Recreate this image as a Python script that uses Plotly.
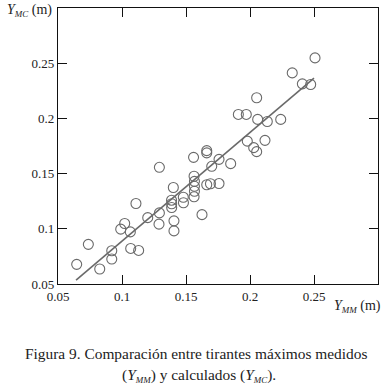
import plotly.graph_objects as go

# Measured maximum depth Y_MM (m)
y_mm = [0.0646, 0.0737, 0.0826, 0.0920, 0.0920, 0.0990, 0.1021, 0.1065, 0.1068, 0.1130,
        0.1109, 0.1201, 0.1292, 0.1289, 0.1292, 0.1401, 0.1387, 0.1388, 0.1388, 0.1406,
        0.1406, 0.1479, 0.1480, 0.1563, 0.1566, 0.1566, 0.1566, 0.1563, 0.1559, 0.1625,
        0.1662, 0.1662, 0.1701, 0.1662, 0.1691, 0.1758, 0.1758, 0.1849, 0.1909, 0.1971,
        0.1979, 0.2029, 0.2052, 0.2060, 0.2052, 0.2135, 0.2117, 0.2240, 0.2330, 0.2409,
        0.2474, 0.2508]
# Calculated maximum depth Y_MC (m)
y_mc = [0.0678, 0.0859, 0.0636, 0.0801, 0.0726, 0.0997, 0.1048, 0.0972, 0.0822, 0.0804,
        0.1229, 0.1101, 0.1144, 0.1042, 0.1557, 0.1374, 0.1259, 0.1227, 0.1193, 0.1072,
        0.0981, 0.1286, 0.1236, 0.1476, 0.1430, 0.1385, 0.1340, 0.1290, 0.1647, 0.1128,
        0.1708, 0.1688, 0.1566, 0.1399, 0.1408, 0.1410, 0.1629, 0.1590, 0.2036, 0.2036,
        0.1794, 0.1735, 0.1699, 0.1991, 0.2187, 0.1972, 0.1801, 0.1991, 0.2412, 0.2313,
        0.2307, 0.2548]

# Fitted line end points
fit_x = [0.0641, 0.2500]
fit_y = [0.0536, 0.2364]

x_ticks = [0.05, 0.1, 0.15, 0.2, 0.25]
x_ticklabels = ["0.05", "0.1", "0.15", "0.2", "0.25"]
y_ticks = [0.05, 0.1, 0.15, 0.2, 0.25]
y_ticklabels = ["0.05", "0.1", "0.15", "0.2", "0.25"]

FONT = "Liberation Serif, serif"
GRAY = "#6a6a6a"
TXT = "#222222"

fig = go.Figure()
fig.add_trace(go.Scatter(
    x=fit_x, y=fit_y, mode="lines",
    line=dict(color=GRAY, width=1.6), showlegend=False, hoverinfo="skip"))
fig.add_trace(go.Scatter(
    x=y_mm, y=y_mc, mode="markers",
    marker=dict(symbol="circle-open", size=10, color=GRAY, line=dict(width=1.1, color=GRAY)),
    showlegend=False))

for upd, vals, labs in ((fig.update_xaxes, x_ticks, x_ticklabels),
                        (fig.update_yaxes, y_ticks, y_ticklabels)):
    upd(range=[0.05, 0.30], tickmode="array", tickvals=vals, ticktext=labs,
        showgrid=False, zeroline=False, showline=True, linecolor="#111", linewidth=1.3,
        mirror="ticks", ticks="inside", ticklen=9, tickwidth=1.3, tickcolor="#111",
        tickfont=dict(family=FONT, size=13, color=TXT))

SUB = '<sub><span style="font-size:9px"><i>{}</i></span></sub>'

annotations = [
    dict(text="<i>Y</i>" + SUB.format("MC") + " (m)", xref="paper", yref="paper",
         x=-0.166, y=0.992, xanchor="left", yanchor="middle", showarrow=False,
         font=dict(family=FONT, size=14, color=TXT)),
    dict(text="<i>Y</i>" + SUB.format("MM") + " (m)", xref="paper", yref="paper",
         x=1.016, y=-0.08, xanchor="right", yanchor="middle", showarrow=False,
         font=dict(family=FONT, size=14, color=TXT)),
    dict(text="Figura 9. Comparación entre tirantes máximos medidos", xref="paper", yref="paper",
         x=0.431, y=-0.25, xanchor="center", yanchor="middle", showarrow=False,
         font=dict(family=FONT, size=15.4, color=TXT)),
    dict(text="(<i>Y</i>" + SUB.format("MM") + ") y calculados (<i>Y</i>" + SUB.format("MC") + ").",
         xref="paper", yref="paper",
         x=0.44, y=-0.33, xanchor="center", yanchor="middle", showarrow=False,
         font=dict(family=FONT, size=15.4, color=TXT)),
]

fig.update_layout(
    width=385, height=392,
    margin=dict(l=58, r=7, t=8, b=108),
    paper_bgcolor="white", plot_bgcolor="white",
    font=dict(family=FONT, color=TXT),
    annotations=annotations,
)

fig.write_html("out.html", config={"displayModeBar": False},
               post_script="document.body.style.margin='0';document.body.style.overflow='hidden';")
